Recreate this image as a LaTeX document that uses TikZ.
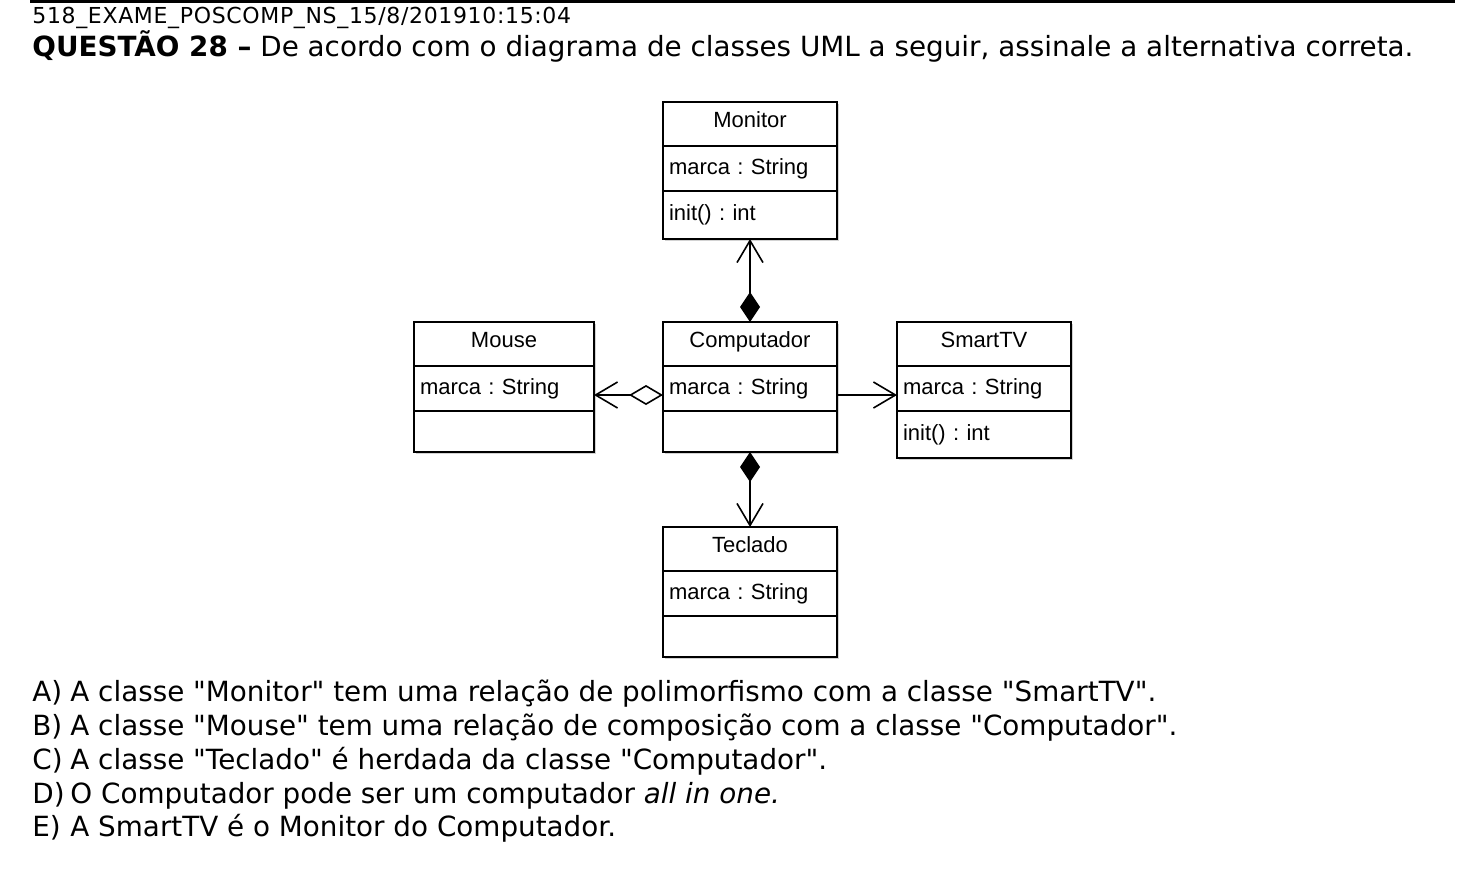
\documentclass[tikz,border=0pt]{standalone}
\usepackage{fontspec}
\setmainfont{DejaVu Sans}[Ligatures=TeXOff]
\newfontfamily\umlfont{Liberation Sans}
\newfontfamily\stampfont{DejaVu Sans}[LetterSpace=3]
\usetikzlibrary{positioning,arrows.meta,shadows}
\tikzset{>=stealth}
\frenchspacing
\tikzset{
  part/.style={draw, fill=white, line width=0.9pt, outer sep=0pt,
    inner xsep=3pt, inner ysep=0pt,
    font=\umlfont\fontsize{11}{12}\selectfont,
    drop shadow={shadow xshift=1.2pt, shadow yshift=-1.2pt,
      fill=gray!35, opacity=1}},
  head/.style={part, align=center, minimum height=22pt,
    text height=8pt, text depth=4.5pt},
  attr/.style={part, align=left, minimum height=22.5pt},
  barb/.style={-{Straight Barb[length=11pt,width=13pt]}, line width=0.8pt},
  compo/.style={{Diamond[length=15pt,width=10pt]}-{Straight Barb[length=11pt,width=13pt]},
    line width=0.8pt},
  aggr/.style={{Diamond[open,length=17pt,width=10pt]}-{Straight Barb[length=11pt,width=13pt]},
    line width=0.8pt},
  txt/.style={anchor=base west, inner sep=0pt, font=\fontsize{13.9}{16}\selectfont}
}
% class: name, top left corner, text width, title, attribute, operation, op height
\newcommand*{\classbox}[7]{%
  \node[head, text width=#3, anchor=north west] (#1-t) at (#2) {#4};
  \node[attr, text width=#3, below=0pt of #1-t] (#1-a) {#5};
  \node[attr, text width=#3, minimum height=#7, below=0pt of #1-a] (#1-o) {#6};
}

\begin{document}
\begin{tikzpicture}[x=0.5pt,y=-0.5pt]
\useasboundingbox (0,0) rectangle (1481,880);
\draw[line width=1.6pt] (30,1.5) -- (1455,1.5);
\node[anchor=base west, inner sep=0pt, font=\stampfont\fontsize{11}{12}\selectfont]
  (stamp) at (32,23) {518\_EXAME\_POSCOMP\_NS\_15/8/201910:15:04};
\node[txt] (quest) at (32,56)
  {\textbf{QUESTÃO 28 –} De acordo com o diagrama de classes UML a seguir, assinale a alternativa correta.};

\classbox{mon}{663,102}{81pt}{Monitor}{marca : String}{init() : int}{24pt}
\classbox{mouse}{414,322}{84pt}{Mouse}{marca : String}{}{20.5pt}
\classbox{comp}{663,322}{81pt}{Computador}{marca : String}{}{20.5pt}
\classbox{tv}{897,322}{81pt}{SmartTV}{marca : String}{init() : int}{23.5pt}
\classbox{tec}{663,527}{81pt}{Teclado}{marca : String}{}{20.5pt}

\draw[compo] (comp-t.north) -- (mon-o.south);
\draw[aggr] ([yshift=-3.25pt]comp-a.west) -- ([yshift=-3.25pt]mouse-a.east);
\draw[barb] ([yshift=-3.25pt]comp-a.east) -- ([yshift=-3.25pt]tv-a.west);
\draw[compo] (comp-o.south) -- (tec-t.north);

\node[txt] (optA) at (32,701)
  {\makebox[19pt][l]{A)}A classe "Monitor" tem uma relação de polimorfismo com a classe "SmartTV".};
\node[txt] (optB) at (32,735)
  {\makebox[19pt][l]{B)}A classe "Mouse" tem uma relação de composição com a classe "Computador".};
\node[txt] (optC) at (32,769)
  {\makebox[19pt][l]{C)}A classe "Teclado" é herdada da classe "Computador".};
\node[txt] (optD) at (32,803)
  {\makebox[19pt][l]{D)}O Computador pode ser um computador \textit{all in one.}};
\node[txt] (optE) at (32,836)
  {\makebox[19pt][l]{E)}A SmartTV é o Monitor do Computador.};
\end{tikzpicture}
\end{document}
